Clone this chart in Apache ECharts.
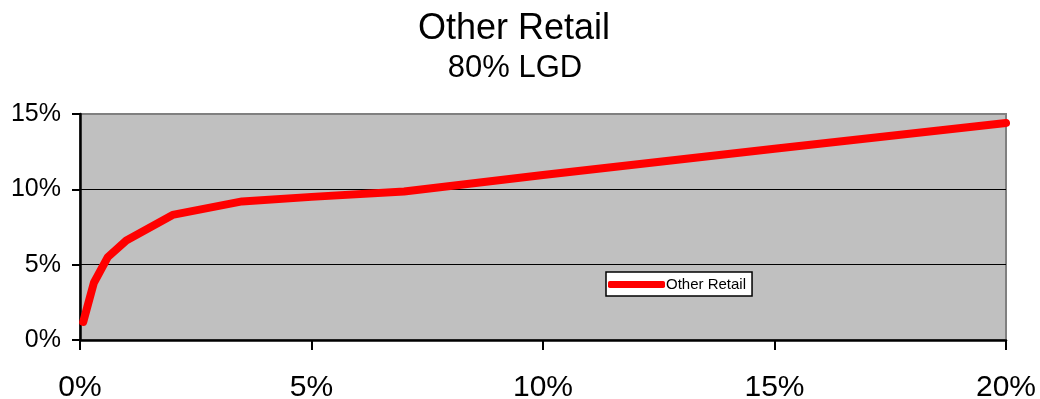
<!DOCTYPE html>
<html>
<head>
<meta charset="utf-8">
<script src="https://cdn.jsdelivr.net/npm/echarts@6/dist/echarts.min.js"></script>
<style>
  html, body { margin: 0; padding: 0; background: #fff; }
  #main { width: 1040px; height: 399px; }
</style>
</head>
<body>
<div id="main"></div>
<script>
// default rate (x, %) vs loss (y, %)
var xValues = [0.07, 0.3, 0.6, 1.0, 2.0, 3.5, 5, 7, 10, 15, 20];
var yValues = [1.2, 3.8, 5.5, 6.6, 8.3, 9.2, 9.5, 9.85, 10.95, 12.7, 14.4];
var seriesName = 'Other Retail';
var titleText = 'Other Retail';
var subText = '80% LGD';

var chart = echarts.init(document.getElementById('main'));

var points = [];
for (var i = 0; i < xValues.length; i++) {
    points.push([xValues[i], yValues[i]]);
}

var font = 'Liberation Sans, Arial, sans-serif';

var option = {
    backgroundColor: '#fff',
    animation: false,
    graphic: [
        { type: 'text', x: 514, y: 11, style: { text: titleText, fontSize: 36, fontFamily: font, fill: '#000', textAlign: 'center', textVerticalAlign: 'top' } },
        { type: 'text', x: 515, y: 53, style: { text: subText, fontSize: 31, fontFamily: font, fill: '#000', textAlign: 'center', textVerticalAlign: 'top' } }
    ],
    grid: {
        left: 80, right: 34, top: 114, bottom: 59,
        outerBoundsMode: 'none',
        containLabel: false,
        show: true,
        backgroundColor: '#c0c0c0',
        borderColor: '#808080',
        borderWidth: 2
    },
    legend: {
        data: [seriesName],
        left: 606, top: 272,
        backgroundColor: '#fff',
        borderColor: '#000',
        borderWidth: 1.5,
        borderRadius: 0,
        padding: [5, 6, 4, 2],
        icon: 'roundRect',
        itemWidth: 57,
        itemHeight: 7,
        itemGap: 2,
        textStyle: { fontSize: 15, fontFamily: font, color: '#000', padding: [4, 0, 0, -4] }
    },
    xAxis: {
        type: 'value',
        min: 0, max: 20, interval: 5,
        axisLine: { show: true, lineStyle: { color: '#000', width: 2.5 } },
        axisTick: { show: true, length: 10, lineStyle: { color: '#000', width: 2 } },
        axisLabel: { formatter: '{value}%', fontSize: 30, fontFamily: font, color: '#000', margin: 33 },
        splitLine: { show: false }
    },
    yAxis: {
        type: 'value',
        min: 0, max: 15, interval: 5,
        axisLine: { show: true, lineStyle: { color: '#000', width: 2.5 } },
        axisTick: { show: true, length: 8, lineStyle: { color: '#000', width: 2 } },
        axisLabel: { formatter: '{value}%', fontSize: 25, fontFamily: font, color: '#000', margin: 19 },
        splitLine: { show: true, lineStyle: { color: ['#000', '#000', '#000', '#808080'], width: 1 } }
    },
    series: [{
        name: seriesName,
        type: 'line',
        data: points,
        symbol: 'none',
        smooth: false,
        lineStyle: { color: '#ff0000', width: 8, cap: 'round', join: 'round' },
        itemStyle: { color: '#ff0000' }
    }]
};

chart.setOption(option);
</script>
</body>
</html>
